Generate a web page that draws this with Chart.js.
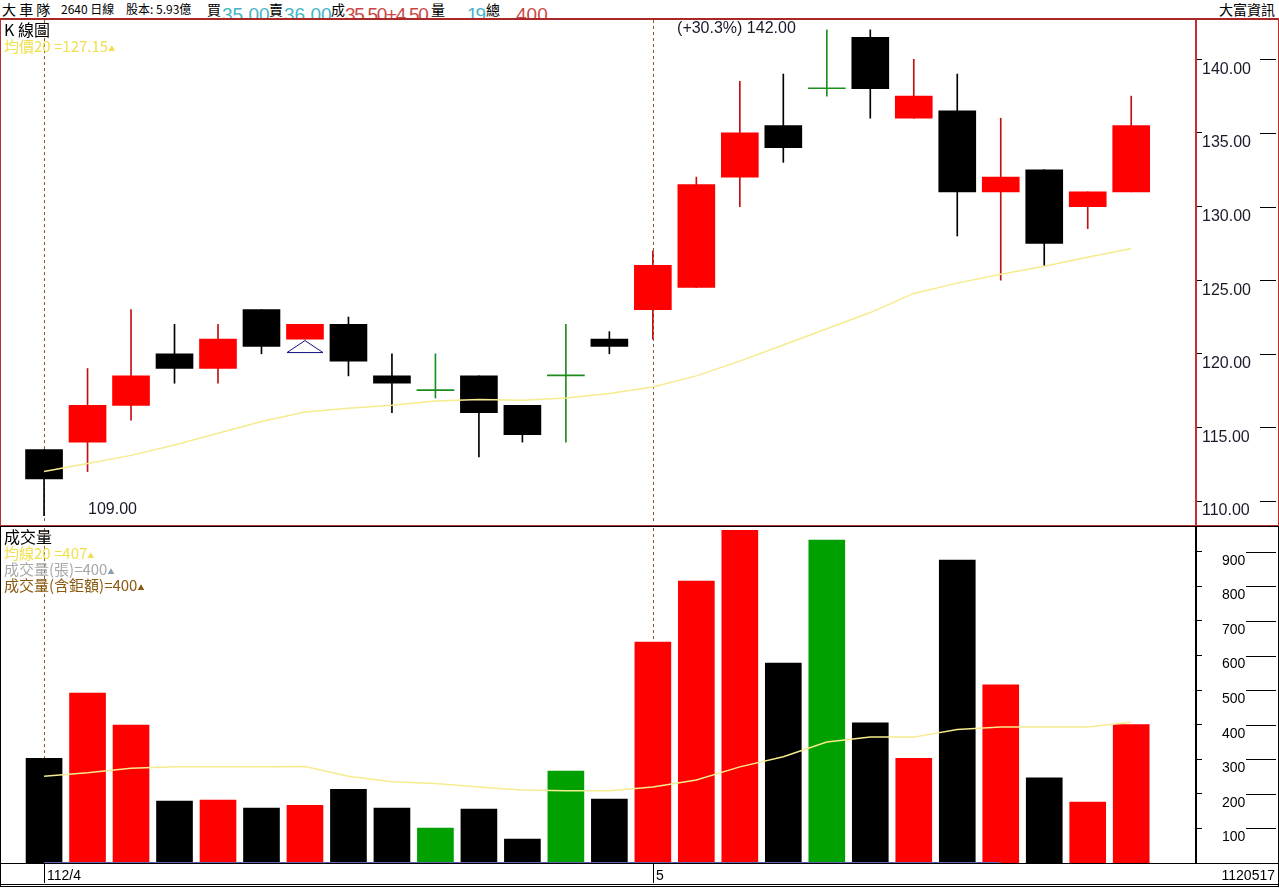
<!DOCTYPE html>
<html>
<head>
<meta charset="utf-8">
<script src="https://cdn.jsdelivr.net/npm/chart.js@4.4.1/dist/chart.umd.min.js"></script>
<style>
  body { margin:0; background:#fff; width:1279px; height:888px; overflow:hidden; position:relative;
         font-family:"Noto Sans CJK TC","Liberation Sans",sans-serif; color:#000; }
  canvas, .abs { position:absolute; }
  #header { left:0; top:0; width:1279px; height:18px; overflow:hidden; }
  #header span { position:absolute; top:0; font-size:14px; line-height:18px; white-space:nowrap; }
  #header span.big { font-family:"Liberation Sans",Arial,sans-serif; font-size:19px; line-height:19px; top:5px; }
  .frame { box-sizing:border-box; pointer-events:none; }
  .lg { position:absolute; left:4px; font-size:15px; line-height:16px; white-space:nowrap; }
  .tri { font-size:7px; vertical-align:1px; }
  #bottom span { position:absolute; top:2px; font-family:"Liberation Sans Narrow","Liberation Sans",sans-serif; font-size:14px; line-height:18px; }
  .mtick { position:absolute; top:0; width:1px; height:19px; background:#000; }
</style>
</head>
<body>
<div id="header" class="abs">
  <span style="left:2px">大 車 隊</span>
  <span style="left:61px;font-size:12px">2640 日線</span>
  <span style="left:126px;font-size:12px">股本: 5.93億</span>
  <span style="left:207px">買</span>
  <span class="big" style="left:222px;color:#45b5c5">35.00</span>
  <span style="left:269px">賣</span>
  <span class="big" style="left:284px;color:#45b5c5">36.00</span>
  <span style="left:331px">成</span>
  <span class="big" style="left:345px;color:#c84848;letter-spacing:-1.3px">35.50+4.50</span>
  <span style="left:431px">量</span>
  <span class="big" style="left:467px;color:#45b5c5;letter-spacing:-2px">19</span>
  <span style="left:486px">總</span>
  <span class="big" style="left:516px;color:#c84848">400</span>
  <span style="right:4px">大富資訊</span>
</div>

<canvas id="priceChart" width="1279" height="508" style="left:0;top:18px"></canvas>
<canvas id="volChart" width="1279" height="336" style="left:0;top:527px"></canvas>

<div class="abs frame" style="left:0;top:18px;width:1279px;height:508px;border:1px solid #b83030;border-top:2px solid #a82828"></div>
<div class="abs frame" style="left:0;top:526px;width:1279px;height:338px;border:1px solid #000;border-bottom:none"></div>

<div class="lg" style="top:21px;font-size:16px">K 線圖</div>
<div class="lg" id="maLegend" style="top:38px;color:#f0e050"></div>
<div class="lg" style="top:528px;font-size:16px">成交量</div>
<div class="lg" id="vmaLegend" style="top:545px;color:#f0e050"></div>
<div class="lg" id="volLegend" style="top:561px;color:#a8a8a8"></div>
<div class="lg" id="volBigLegend" style="top:577px;color:#8b5a10"></div>

<div id="bottom" class="abs frame" style="left:0;top:863px;width:1279px;height:24px;border:1px solid #000;border-bottom:3px double #000"></div>

<script>
// daily candles (price)
const opens  = [113.5, 114, 116.5, 120, 119, 123, 121, 122, 118.5, 117.5, 118.5, 116.5, 118.5, 121, 123, 124.5, 132, 135.5, 138, 141.5, 136, 136.5, 131, 132.5, 130, 131];
const highs  = [113.5, 119, 123, 122, 122, 123, 122, 122.5, 120, 120, 118.5, 116.5, 122, 121.5, 127, 132, 138.5, 139, 142, 142, 140, 139, 136, 132.5, 131, 137.5];
const lows   = [109, 112, 115.5, 118, 118, 120, 121, 118.5, 116, 117, 113, 114, 114, 120, 121, 124.5, 130, 133, 137.5, 136, 136, 128, 125, 126, 128.5, 131];
const closes = [111.5, 116.5, 118.5, 119, 121, 120.5, 122, 119.5, 118, 117.5, 116, 114.5, 118.5, 120.5, 126, 131.5, 135, 134, 138, 138, 137.5, 131, 132, 127.5, 131, 135.5];
const ma20   = [112.0, 112.55, 113.1, 113.8, 114.6, 115.4, 116.05, 116.3, 116.5, 116.8, 116.9, 116.85, 117.0, 117.3, 117.75, 118.5, 119.5, 120.6, 121.7, 122.8, 124.1, 124.8, 125.4, 125.95, 126.55, 127.15];

// volume (張)
const volumes = [303, 491, 399, 179, 182, 159, 167, 213, 159, 101, 156, 69, 266, 185, 639, 815, 962, 578, 934, 405, 303, 876, 515, 246, 176, 400];
const volMa20 = [251, 261, 274, 278, 278, 278, 279, 251, 235, 230, 220, 211, 209, 209, 220, 240, 278, 307, 350, 364, 364, 386, 393, 393, 393, 407];

const priceTicks = [110, 115, 120, 125, 130, 135, 140];
const volTicks = [100, 200, 300, 400, 500, 600, 700, 800, 900];
const monthIdx = [0, 14];
const monthLabels = ['112/4', '5'];
const gapMarks = [6];

const idx = opens.map((_, i) => i);
const upColor = '#ff0000', downColor = '#000000', flatColor = '#00a000';
const bodyColors = idx.map(i => closes[i] > opens[i] ? upColor : closes[i] < opens[i] ? downColor : '#1c8c1c');
const wickColors = idx.map(i => closes[i] > opens[i] ? '#c01010' : closes[i] < opens[i] ? '#000' : '#1c8c1c');
const volColors = idx.map(i => closes[i] > opens[i] ? upColor : closes[i] < opens[i] ? downColor : flatColor);

document.getElementById('maLegend').innerHTML = '均價20 =' + ma20[ma20.length - 1].toFixed(2) + '<span class="tri">▲</span>';
document.getElementById('vmaLegend').innerHTML = '均線20 =' + volMa20[volMa20.length - 1] + '<span class="tri">▲</span>';
document.getElementById('volLegend').innerHTML = '成交量(張)=' + volumes[volumes.length - 1] + '<span class="tri" style="color:#8aa0b0">▲</span>';
document.getElementById('volBigLegend').innerHTML = '成交量(含鉅額)=' + volumes[volumes.length - 1] + '<span class="tri">▲</span>';

const xMin = -0.99, xMax = 26.49;

function makeDecor(tx0, tx1, extra) {
  return {
    id: 'decor',
    beforeDatasetsDraw(chart) {
      const { ctx, chartArea, scales } = chart;
      ctx.save();
      ctx.strokeStyle = '#8b5a2b';
      ctx.lineWidth = 1;
      ctx.setLineDash([3, 3]);
      monthIdx.forEach(i => {
        const x = Math.round(scales.x.getPixelForValue(i)) + 0.5;
        ctx.beginPath();
        ctx.moveTo(x, chartArea.top);
        ctx.lineTo(x, chartArea.bottom);
        ctx.stroke();
      });
      ctx.restore();
    },
    afterDraw(chart) {
      const { ctx, scales } = chart;
      ctx.save();
      ctx.strokeStyle = '#000';
      ctx.lineWidth = 1;
      scales.y.ticks.forEach(t => {
        const y = Math.round(scales.y.getPixelForValue(t.value)) + 0.5;
        ctx.beginPath();
        ctx.moveTo(tx0, y);
        ctx.lineTo(tx1, y);
        ctx.stroke();
      });
      ctx.restore();
      if (extra) extra(chart);
    }
  };
}

function priceExtra(chart) {
  const { ctx, scales } = chart;
  const x = scales.x, y = scales.y;
  let hi = 0, lo = 0;
  idx.forEach(i => { if (highs[i] > highs[hi]) hi = i; if (lows[i] < lows[lo]) lo = i; });
  const pct = (highs[hi] - lows[lo]) / lows[lo] * 100;
  ctx.save();
  ctx.font = '16px "Liberation Sans", Arial, sans-serif';
  ctx.fillStyle = '#1a1a2a';
  ctx.textBaseline = 'middle';
  ctx.textAlign = 'right';
  ctx.fillText('(+' + pct.toFixed(1) + '%) ' + highs[hi].toFixed(2), x.getPixelForValue(hi) - 31, y.getPixelForValue(highs[hi]) - 1);
  ctx.textAlign = 'left';
  ctx.fillText(lows[lo].toFixed(2), x.getPixelForValue(lo) + 44, y.getPixelForValue(lows[lo]) - 6);
  // gap markers
  ctx.strokeStyle = '#101080';
  ctx.lineWidth = 1;
  gapMarks.forEach(i => {
    const cx = x.getPixelForValue(i);
    const top = y.getPixelForValue(lows[i]) + 1.5;
    ctx.beginPath();
    ctx.moveTo(cx - 18, top + 12);
    ctx.lineTo(cx, top);
    ctx.lineTo(cx + 18, top + 12);
    ctx.closePath();
    ctx.stroke();
  });
  ctx.restore();
}

function volExtra(chart) {
  const { ctx, scales } = chart;
  const y0 = Math.round(scales.y.getPixelForValue(0)) - 0.5;
  ctx.save();
  ctx.strokeStyle = '#6060a8';
  ctx.lineWidth = 1;
  ctx.beginPath();
  ctx.moveTo(scales.x.getPixelForValue(0), y0);
  ctx.lineTo(scales.x.getPixelForValue(22), y0);
  ctx.stroke();
  ctx.restore();
}

const xScale = { type: 'linear', min: xMin, max: xMax, offset: false, display: false };

new Chart(document.getElementById('priceChart'), {
  type: 'bar',
  data: {
    datasets: [
      {
        type: 'line', data: idx.map(i => ({ x: i, y: ma20[i] })),
        borderColor: '#f6eb8e', borderWidth: 1.5, pointRadius: 0, order: 0
      },
      {
        data: idx.map(i => ({ x: i, y: [opens[i], closes[i]] })),
        backgroundColor: bodyColors, barThickness: 37, minBarLength: 1, grouped: false, order: 1
      },
      {
        data: idx.map(i => ({ x: i, y: [lows[i], highs[i]] })),
        backgroundColor: wickColors, barThickness: 1, grouped: false, order: 2
      }
    ]
  },
  options: {
    responsive: false,
    animation: false,
    events: [],
    layout: { padding: { left: 1, top: 2, bottom: 2, right: 0 } },
    plugins: { legend: { display: false }, tooltip: { enabled: false } },
    scales: {
      x: xScale,
      y: {
        position: 'right', min: 108.44, max: 142.67,
        afterBuildTicks: s => { s.ticks = priceTicks.map(v => ({ value: v })); },
        afterFit: s => { s.width = 83; s.paddingTop = 0; s.paddingBottom = 0; },
        border: { color: '#c83030', width: 2 },
        grid: { drawOnChartArea: false, drawTicks: true, tickLength: 6, color: '#000' },
        ticks: {
          padding: 0, labelOffset: 10, color: '#1a1a2a',
          font: { family: '"Liberation Sans", Arial, sans-serif', size: 16 },
          callback: v => v.toFixed(2)
        }
      }
    }
  },
  plugins: [makeDecor(1260, 1276, priceExtra)]
});

const volChart = new Chart(document.getElementById('volChart'), {
  type: 'bar',
  data: {
    datasets: [
      {
        type: 'line', data: idx.map(i => ({ x: i, y: volMa20[i] })),
        borderColor: '#f6eb8e', borderWidth: 1.5, pointRadius: 0, order: 0
      },
      {
        data: idx.map(i => ({ x: i, y: volumes[i] })),
        backgroundColor: volColors, barThickness: 36, grouped: false, order: 1
      }
    ]
  },
  options: {
    responsive: false,
    animation: false,
    events: [],
    layout: { padding: { left: 1, top: 1, bottom: 0, right: 0 } },
    plugins: { legend: { display: false }, tooltip: { enabled: false } },
    scales: {
      x: xScale,
      y: {
        position: 'right', min: 0, max: 968.7,
        afterBuildTicks: s => { s.ticks = volTicks.map(v => ({ value: v })); },
        afterFit: s => { s.width = 83; s.paddingTop = 0; s.paddingBottom = 0; },
        border: { color: '#000', width: 2 },
        grid: { drawOnChartArea: false, drawTicks: true, tickLength: 6, color: '#000' },
        ticks: {
          padding: 20, labelOffset: 9, color: '#000',
          font: { family: '"Liberation Sans", Arial, sans-serif', size: 14 }
        }
      }
    }
  },
  plugins: [makeDecor(1246, 1276, volExtra)]
});

// month labels on the bottom axis row
const bottom = document.getElementById('bottom');
monthIdx.forEach((m, k) => {
  const px = Math.round(volChart.scales.x.getPixelForValue(m));
  const t = document.createElement('div');
  t.className = 'mtick';
  t.style.left = (px - 1) + 'px';
  bottom.appendChild(t);
  const s = document.createElement('span');
  s.style.left = (px + 2) + 'px';
  s.textContent = monthLabels[k];
  bottom.appendChild(s);
});
const endLabel = document.createElement('span');
endLabel.style.right = '3px';
endLabel.textContent = '1120517';
bottom.appendChild(endLabel);
</script>
</body>
</html>
